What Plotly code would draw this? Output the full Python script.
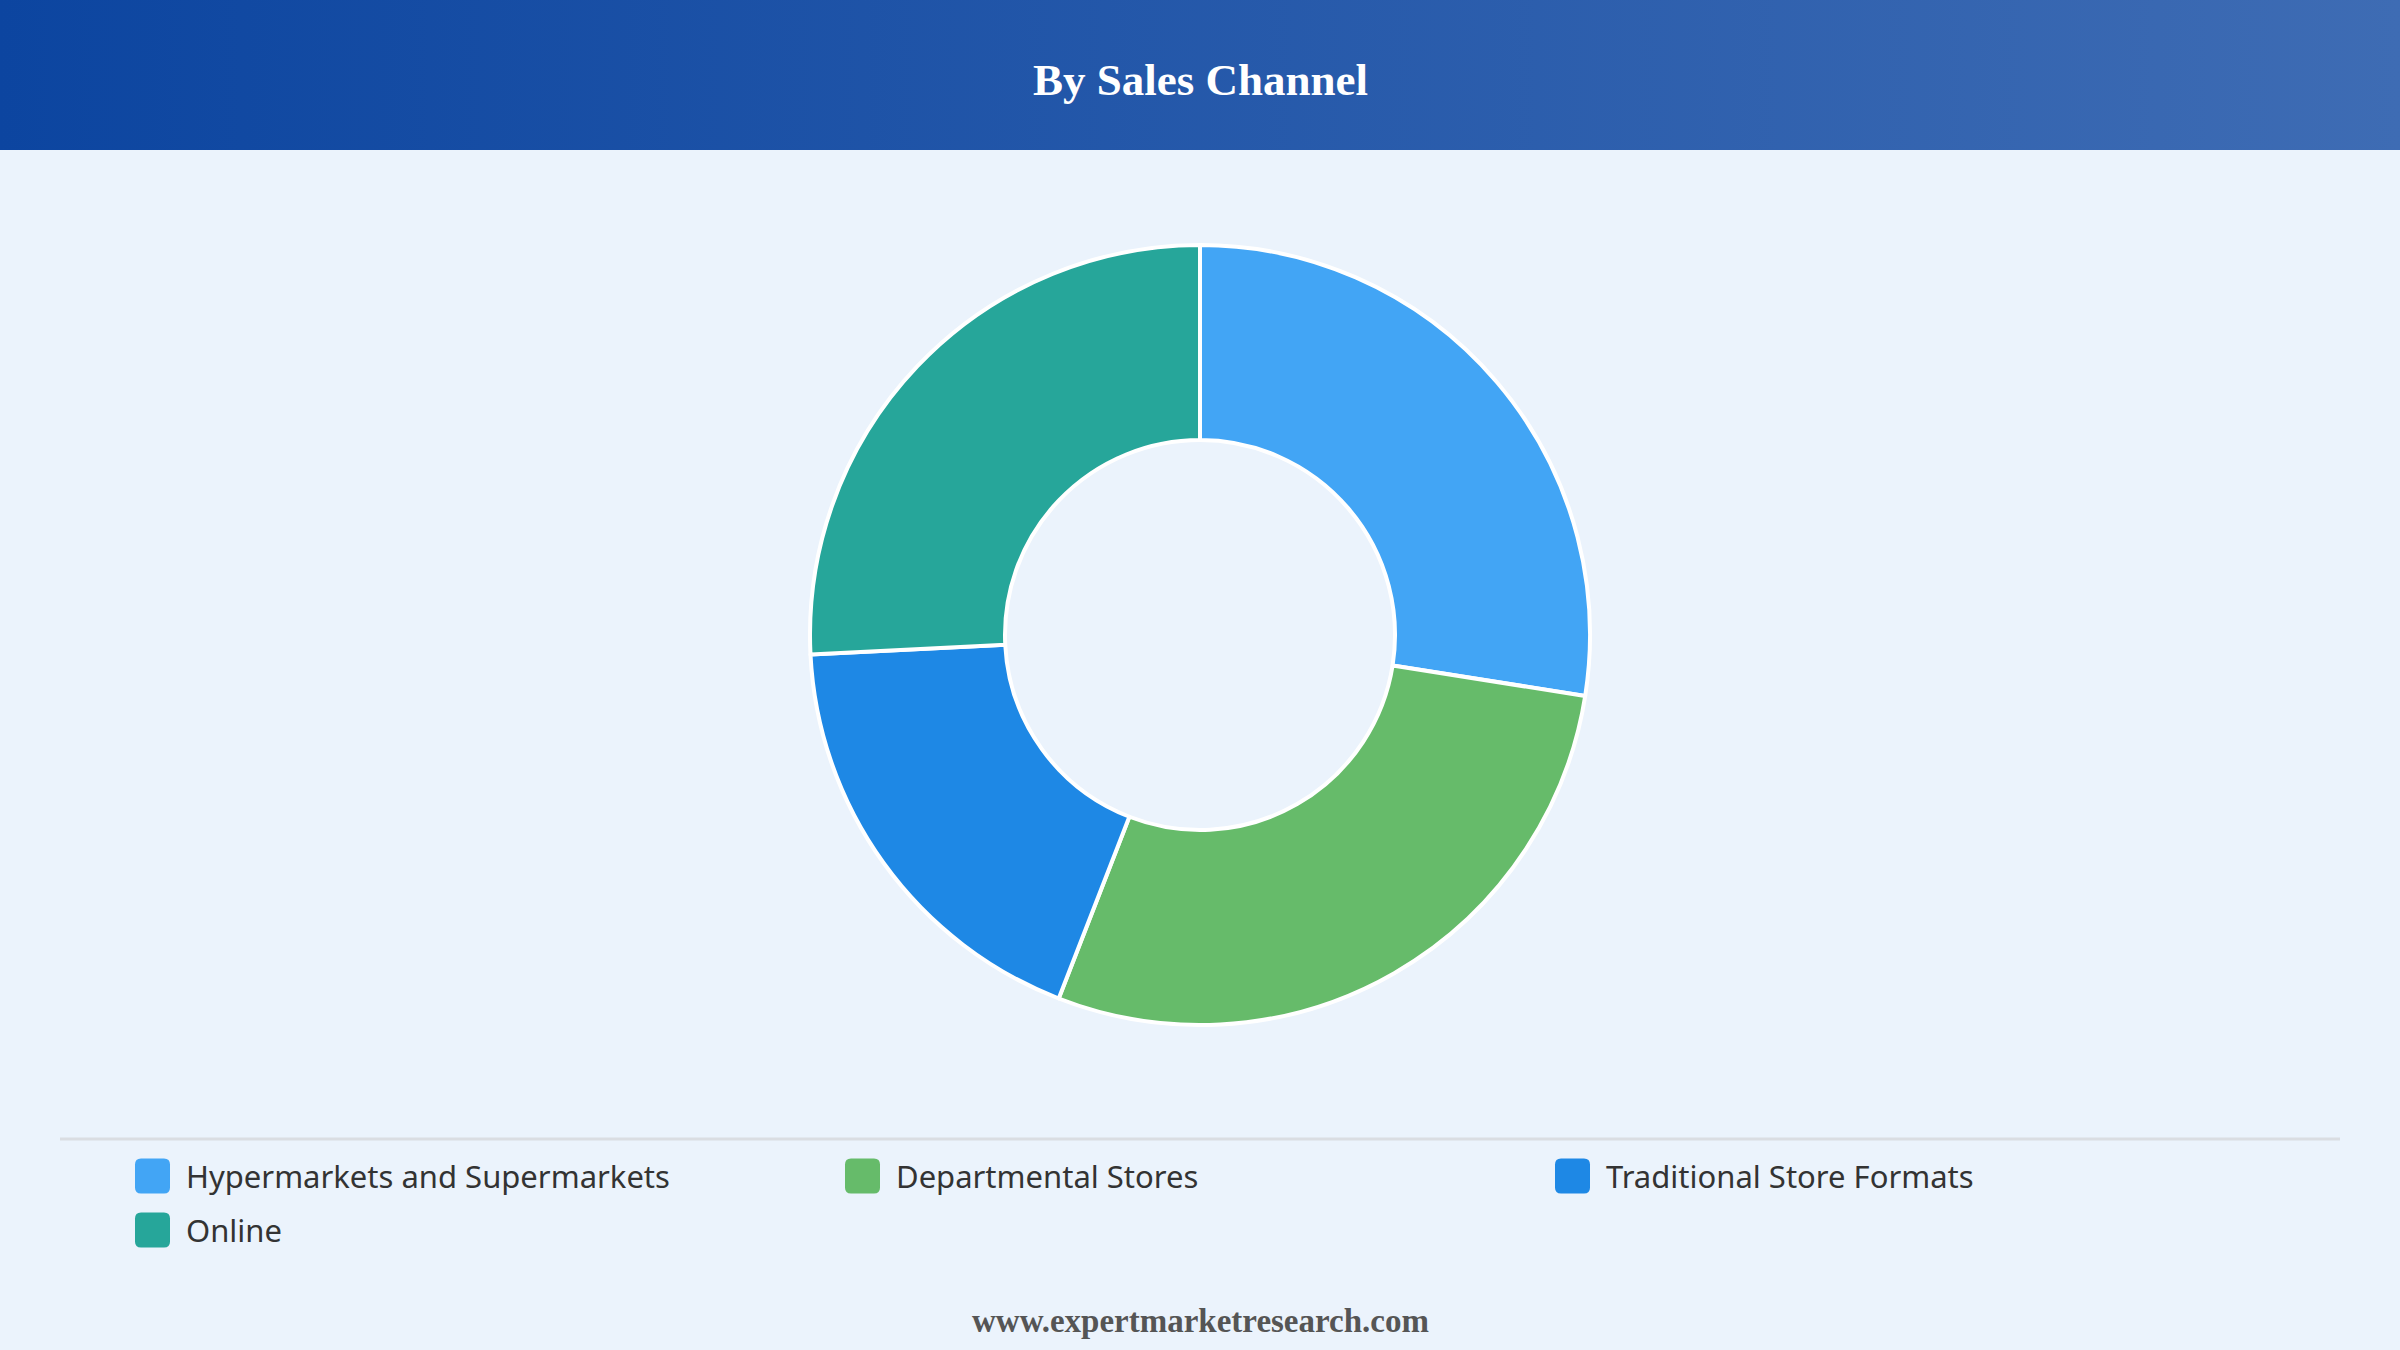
import base64
import plotly.graph_objects as go

# ---- data ----
categories = ["Hypermarkets and Supermarkets", "Departmental Stores",
              "Traditional Store Formats", "Online"]
shares = [27.5, 28.4, 18.3, 25.8]
colors = ["#42A5F5", "#66BB6A", "#1E88E5", "#26A69A"]
title_text = "By Sales Channel"
footer_text = "www.expertmarketresearch.com"

W, H = 2400, 1350
BG = "#EBF3FC"


def fx(x):
    return x / W


def fy(y):
    return 1 - y / H


fig = go.Figure()

# donut: centre (1200, 635) px, radius 390 px
cy, R = 635, 390
fig.add_trace(go.Pie(
    labels=categories, values=shares, sort=False, direction="clockwise",
    rotation=0, hole=0.5, textinfo="none", hoverinfo="label+percent",
    marker=dict(colors=colors, line=dict(color="white", width=4)),
    domain=dict(x=[0, 1], y=[fy(cy + R), fy(cy - R)]),
    showlegend=False,
))

shapes = []
annotations = []
images = []

# header gradient band via svg image
svg = ('<svg xmlns="http://www.w3.org/2000/svg" width="2400" height="150">'
       '<defs><linearGradient id="g" x1="0" y1="0" x2="1" y2="0">'
       '<stop offset="0" stop-color="#0C45A0"/>'
       '<stop offset="1" stop-color="#3E6CB4"/></linearGradient></defs>'
       '<rect width="2400" height="150" fill="url(#g)"/></svg>')
src = "data:image/svg+xml;base64," + base64.b64encode(svg.encode()).decode()
images.append(dict(source=src, xref="paper", yref="paper", x=0, y=1,
                   sizex=1, sizey=150 / H, xanchor="left", yanchor="top",
                   sizing="stretch", layer="below"))

annotations.append(dict(text="<b>" + title_text + "</b>", x=0.5, y=fy(80),
                        xref="paper", yref="paper", showarrow=False,
                        xanchor="center", yanchor="middle",
                        font=dict(family="Liberation Serif, Times New Roman, serif",
                                  size=45, color="white")))

# separator line above legend
shapes.append(dict(type="line", xref="paper", yref="paper",
                   x0=fx(60), x1=fx(2340), y0=fy(1139), y1=fy(1139),
                   line=dict(color="#DADDE2", width=3)))

# custom legend
col_x = [135, 845, 1555]
row_y = [1176, 1230]
sq = 35
rad = 6
for i, (cat, col) in enumerate(zip(categories, colors)):
    cx0 = col_x[i % 3]
    cyc = row_y[i // 3]
    x0, x1 = cx0, cx0 + sq
    y0, y1 = cyc - sq / 2, cyc + sq / 2
    path = (f"M{fx(x0 + rad)},{fy(y0)} L{fx(x1 - rad)},{fy(y0)} "
            f"Q{fx(x1)},{fy(y0)} {fx(x1)},{fy(y0 + rad)} "
            f"L{fx(x1)},{fy(y1 - rad)} Q{fx(x1)},{fy(y1)} {fx(x1 - rad)},{fy(y1)} "
            f"L{fx(x0 + rad)},{fy(y1)} Q{fx(x0)},{fy(y1)} {fx(x0)},{fy(y1 - rad)} "
            f"L{fx(x0)},{fy(y0 + rad)} Q{fx(x0)},{fy(y0)} {fx(x0 + rad)},{fy(y0)} Z")
    shapes.append(dict(type="path", xref="paper", yref="paper", path=path,
                       fillcolor=col, line=dict(width=0)))
    annotations.append(dict(text=cat, x=fx(x1 + 14), y=fy(cyc), xref="paper",
                            yref="paper", showarrow=False, xanchor="left",
                            yanchor="middle",
                            font=dict(family="Noto Sans, Open Sans, sans-serif",
                                      size=31, color="#333333")))

annotations.append(dict(text="<b>" + footer_text + "</b>", x=0.5, y=fy(1321),
                        xref="paper", yref="paper", showarrow=False,
                        xanchor="center", yanchor="middle",
                        font=dict(family="Liberation Serif, Times New Roman, serif",
                                  size=33, color="#555555")))

fig.update_layout(
    width=W, height=H, margin=dict(l=0, r=0, t=0, b=0),
    paper_bgcolor=BG, plot_bgcolor=BG,
    shapes=shapes, annotations=annotations, images=images,
    showlegend=False,
)

fig.write_html("out.html", config={"displayModeBar": False})
